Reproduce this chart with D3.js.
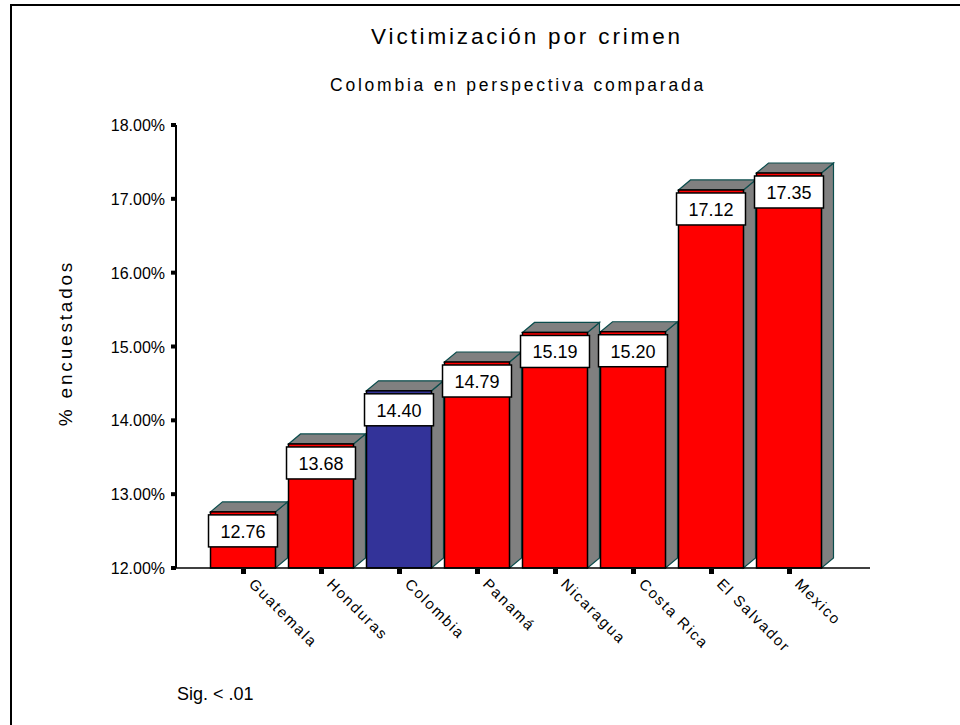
<!DOCTYPE html>
<html><head><meta charset="utf-8">
<script src="https://cdn.jsdelivr.net/npm/d3@7"></script>
<style>body{margin:0;background:#fff}svg{display:block}text{font-family:"Liberation Sans",Arial,sans-serif}</style>
</head><body>
<svg id="c" width="960" height="725"></svg>
<script>
const categories = ["Guatemala","Honduras","Colombia","Panamá","Nicaragua","Costa Rica","El Salvador","Mexico"];
const values = [12.76,13.68,14.40,14.79,15.19,15.20,17.12,17.35];
const highlight = ["Colombia"];
const yTicks = [12,13,14,15,16,17,18];
const title = "Victimización por crimen";
const subtitle = "Colombia en perspectiva comparada";
const yLabel = "% encuestados";
const note = "Sig. < .01";

const svg = d3.select("#c");
svg.append("rect").attr("x",11).attr("y",5).attr("width",970).attr("height",740)
  .attr("fill","none").attr("stroke","#000").attr("stroke-width",2);

const y = d3.scaleLinear().domain([12,18]).range([568,125]);
const x = d3.scaleBand().domain(categories).range([204,828]).paddingInner(0.167).paddingOuter(0.0835);
const dx = 12, dy = 10;
const y0 = y(12);

svg.append("text").attr("x",527).attr("y",44).attr("text-anchor","middle")
  .attr("font-size",22.5).attr("letter-spacing",2.85).text(title);
svg.append("text").attr("x",518).attr("y",91).attr("text-anchor","middle")
  .attr("font-size",17.5).attr("letter-spacing",2.75).text(subtitle);
svg.append("text").attr("transform","translate(72,343) rotate(-90)").attr("text-anchor","middle")
  .attr("font-size",19).attr("letter-spacing",2.8).text(yLabel);
svg.append("text").attr("x",177).attr("y",700).attr("font-size",18).text(note);

// bars
const g = svg.append("g");
categories.forEach((c,i)=>{
  const v = values[i];
  const xl = x(c), w = x.bandwidth(), xr = xl + w, yt = y(v);
  g.append("path").attr("d",`M${xr},${yt}L${xr+dx},${yt-dy}L${xr+dx},${y0-dy}L${xr},${y0}Z`)
    .attr("fill","#808080").attr("stroke","#0b4d4d").attr("stroke-width",1.2);
  g.append("path").attr("d",`M${xl},${yt}L${xl+dx},${yt-dy}L${xr+dx},${yt-dy}L${xr},${yt}Z`)
    .attr("fill","#808080").attr("stroke","#0b4d4d").attr("stroke-width",1.2);
  g.append("rect").attr("x",xl).attr("y",yt).attr("width",w).attr("height",y0-yt)
    .attr("fill", highlight.includes(c) ? "#333399" : "#ff0000").attr("stroke","#000").attr("stroke-width",1.5);
  g.append("rect").attr("x",xl-2).attr("y",yt+3).attr("width",w+4).attr("height",32)
    .attr("fill","#fff").attr("stroke","#000").attr("stroke-width",1.5);
  g.append("text").attr("x",xl+w/2).attr("y",yt+26).attr("text-anchor","middle")
    .attr("font-size",18).text(v.toFixed(2));
});

// axes
const ya = svg.append("g");
ya.append("line").attr("x1",176).attr("x2",176).attr("y1",y(18)).attr("y2",y0).attr("stroke","#000").attr("stroke-width",2);
yTicks.forEach(t=>{
  ya.append("rect").attr("x",171).attr("y",y(t)-2).attr("width",5).attr("height",4).attr("fill","#000");
  ya.append("text").attr("x",165).attr("y",y(t)+6).attr("text-anchor","end").attr("font-size",16)
    .text(t.toFixed(2)+"%");
});
const xa = svg.append("g");
xa.append("line").attr("x1",172).attr("x2",870).attr("y1",y0).attr("y2",y0).attr("stroke","#000").attr("stroke-width",1.5);
categories.forEach(c=>{
  const cx = x(c)+x.bandwidth()/2;
  xa.append("rect").attr("x",cx-2).attr("y",y0+1).attr("width",5).attr("height",5).attr("fill","#000");
  xa.append("text").attr("transform",`translate(${cx+5},${y0+17}) rotate(45)`)
    .attr("font-size",15).attr("letter-spacing",1.8).text(c);
});
</script>
</body></html>
